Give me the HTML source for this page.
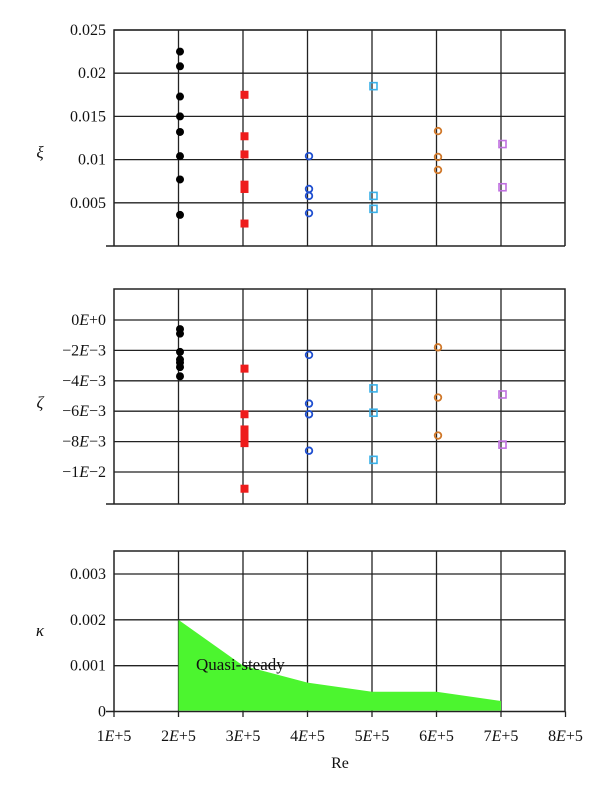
<!DOCTYPE html>
<html><head><meta charset="utf-8"><style>
html,body{margin:0;padding:0;background:#fff;}
svg{display:block;font-family:"Liberation Serif",serif;}
</style></head><body>
<svg id="chart" width="600" height="793" viewBox="0 0 600 793" xmlns="http://www.w3.org/2000/svg"></svg>
<script>
const reTicks=[1e5,2e5,3e5,4e5,5e5,6e5,7e5,8e5];
const reLabels=["1","2","3","4","5","6","7","8"];
// xi panel
const xiTicks=[0.005,0.01,0.015,0.02,0.025];
const xiLabels=["0.005","0.01","0.015","0.02","0.025"];
const xiBlack=[0.0225,0.0208,0.0173,0.015,0.0132,0.0104,0.0077,0.0036];
const xiRed=[0.0175,0.0127,0.0106,0.0071,0.0066,0.0026];
const xiBlue=[0.0104,0.0066,0.0058,0.0038];
const xiCyan=[0.0185,0.0058,0.0043];
const xiOrange=[0.0133,0.0103,0.0088];
const xiViolet=[0.0118,0.0068];
// zeta panel
const zetaTicks=[0,-0.002,-0.004,-0.006,-0.008,-0.01];
const zetaLabels=["0E+0","\u22122E\u22123","\u22124E\u22123","\u22126E\u22123","\u22128E\u22123","\u22121E\u22122"];
const zetaBlack=[-0.0006,-0.0009,-0.0021,-0.0026,-0.0028,-0.0031,-0.0037];
const zetaRed=[-0.0032,-0.0062,-0.0072,-0.0075,-0.0078,-0.0081,-0.0111];
const zetaBlue=[-0.0023,-0.0055,-0.0062,-0.0086];
const zetaCyan=[-0.0045,-0.0061,-0.0092];
const zetaOrange=[-0.0018,-0.0051,-0.0076];
const zetaViolet=[-0.0049,-0.0082];
// kappa panel
const kTicks=[0,0.001,0.002,0.003];
const kLabels=["0","0.001","0.002","0.003"];
const kRe=[2e5,3e5,4e5,5e5,6e5,7e5];
const kVals=[0.002,0.001,0.00063,0.00043,0.00043,0.00023];

const NS="http://www.w3.org/2000/svg";
const svg=document.getElementById('chart');
function mk(tag,attrs,parent){const e=document.createElementNS(NS,tag);for(const k in attrs)e.setAttribute(k,attrs[k]);(parent||svg).appendChild(e);return e;}
const X0=114,XR=565;
function xs(v){return X0+(v-1e5)/1e5*64.5;}
function lin(d0,d1,p0,p1){return v=>p0+(v-d0)/(d1-d0)*(p1-p0);}
const yXi=lin(0,0.025,246,30);
const yZ=lin(0,-0.01,320,472);
const yK=lin(0,0.003,711.5,574);

function panel(name,top,bot,ticks,labels,ys,sym,symY,italicE){
  const g=mk('g',{});
  
  
  for(let i=0;i<ticks.length;i++){
    const y=ys(ticks[i]);
    const l=mk('line',{x1:X0,x2:XR,y1:y,y2:y,stroke:'#222','stroke-width':1.3},g);
    
    
    const t=mk('text',{x:106,y:y+5,'text-anchor':'end','font-size':16,fill:'#111'},g);
    
    
    if(italicE){const p=labels[i].split('E');t.appendChild(document.createTextNode(p[0]));const s=mk('tspan',{'font-style':'italic'},t);s.textContent='E';t.appendChild(document.createTextNode(p[1]));}
    else t.textContent=labels[i];
  }
  for(let i=1;i<reTicks.length-1;i++){
    const x=xs(reTicks[i]);
    const l=mk('line',{x1:x,x2:x,y1:top,y2:bot,stroke:'#222','stroke-width':1.3},g);
    
    
  }
  const b=mk('path',{d:`M${X0},${bot}V${top}H${XR}V${bot}`,fill:'none',stroke:'#222','stroke-width':1.5},g);
  
  
  const base=mk('line',{x1:X0-8,x2:XR,y1:bot,y2:bot,stroke:'#222','stroke-width':1.5},g);
  
  
  const t=mk('text',{x:40,y:symY,'text-anchor':'middle','font-size':17,'font-style':'italic',fill:'#111'},g);
  
  
  t.textContent=sym;
  return g;
}
function pts(g,re,vals,ys,shape,color,name){
  const cx=xs(re)+1.5;
  vals.forEach(v=>{
    const y=ys(v);let e;
    if(shape==='dot')e=mk('circle',{cx:cx,cy:y,r:4,fill:color},g);
    else if(shape==='sq')e=mk('rect',{x:cx-4,y:y-4,width:8,height:8,fill:color},g);
    else if(shape==='ring')e=mk('circle',{cx:cx,cy:y,r:3.3,fill:'none',stroke:color,'stroke-width':1.8},g);
    else e=mk('rect',{x:cx-3.5,y:y-3.5,width:7,height:7,fill:'none',stroke:color,'stroke-width':1.6},g);
    
    
  });
}
const g1=panel('xi-panel',30,246,xiTicks,xiLabels,yXi,'ξ',158,false);
pts(g1,2e5,xiBlack,yXi,'dot','#000','point-re2e5');
pts(g1,3e5,xiRed,yXi,'sq','#ee1c1c','point-re3e5');
pts(g1,4e5,xiBlue,yXi,'ring','#1f4fd0','point-re4e5');
pts(g1,5e5,xiCyan,yXi,'hsq','#3ab0e8','point-re5e5');
pts(g1,6e5,xiOrange,yXi,'ring','#d0782a','point-re6e5');
pts(g1,7e5,xiViolet,yXi,'hsq','#c070e0','point-re7e5');

const g2=panel('zeta-panel',289,504,zetaTicks,zetaLabels,yZ,'ζ',408,true);
pts(g2,2e5,zetaBlack,yZ,'dot','#000','point-re2e5');
pts(g2,3e5,zetaRed,yZ,'sq','#ee1c1c','point-re3e5');
pts(g2,4e5,zetaBlue,yZ,'ring','#1f4fd0','point-re4e5');
pts(g2,5e5,zetaCyan,yZ,'hsq','#3ab0e8','point-re5e5');
pts(g2,6e5,zetaOrange,yZ,'ring','#d0782a','point-re6e5');
pts(g2,7e5,zetaViolet,yZ,'hsq','#c070e0','point-re7e5');

const g3=panel('kappa-panel',551,711.5,kTicks.slice(1),kLabels.slice(1),yK,'κ',636,false);
let d=`M${xs(kRe[0])},${yK(0.00002)}`;
kRe.forEach((r,i)=>{d+=`L${xs(r)},${yK(kVals[i])}`;});
d+=`L${xs(kRe[kRe.length-1])},${yK(0.00002)}Z`;
const area=mk('path',{d:d,fill:'#4cf52f'},g3);


const at=mk('text',{x:196,y:670,'font-size':17,fill:'#111'},g3);


at.textContent='Quasi-steady';
const z=mk('text',{x:106,y:716.5,'text-anchor':'end','font-size':16,fill:'#111'},g3);


z.textContent=kLabels[0];
reTicks.forEach((r,i)=>{
  const x=xs(r);
  const tk=mk('line',{x1:x,x2:x,y1:711.5,y2:717,stroke:'#222','stroke-width':1.3},g3);
  
  
  const t=mk('text',{x:x,y:741,'text-anchor':'middle','font-size':16,fill:'#111'},g3);
  
  
  t.appendChild(document.createTextNode(reLabels[i]));
  const s=mk('tspan',{'font-style':'italic'},t);s.textContent='E';
  t.appendChild(document.createTextNode('+5'));
});
const xt=mk('text',{x:340,y:768,'text-anchor':'middle','font-size':16,fill:'#111'},g3);


xt.textContent='Re';
</script>
</body></html>
